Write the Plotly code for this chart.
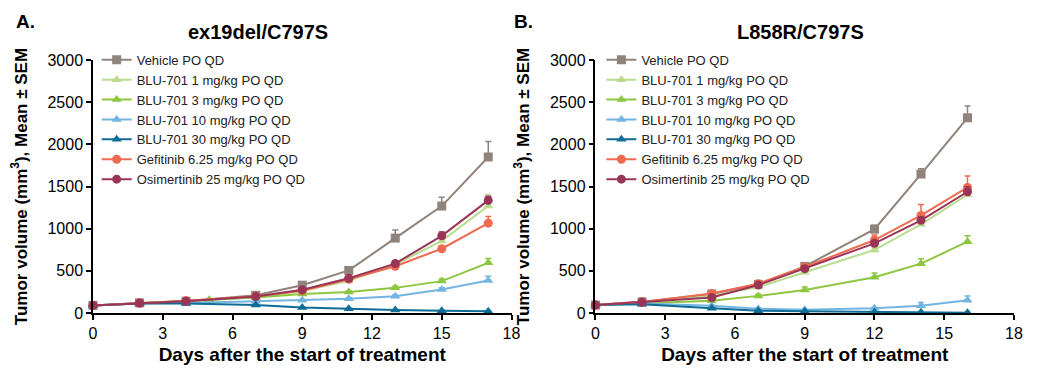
import plotly.graph_objects as go
from plotly.subplots import make_subplots

# ---------------- data ----------------
series_names = [
    "Vehicle PO QD",
    "BLU-701 1 mg/kg PO QD",
    "BLU-701 3 mg/kg PO QD",
    "BLU-701 10 mg/kg PO QD",
    "BLU-701 30 mg/kg PO QD",
    "Gefitinib 6.25 mg/kg PO QD",
    "Osimertinib 25 mg/kg PO QD",
]

# Panel A: ex19del/C797S
days_A = [0, 2, 4, 7, 9, 11, 13, 15, 17]
days_A_alt = [0, 2, 5, 7, 9, 11, 13, 15, 17]
A_vehicle = [90, 120, 140, 210, 330, 505, 888, 1268, 1850]
A_vehicle_sem = [8, 10, 10, 18, 28, 40, 95, 105, 185]
A_blu1 = [90, 115, 150, 190, 260, 383, 575, 855, 1270]
A_blu1_sem = [8, 8, 10, 12, 15, 20, 30, 40, 135]
A_blu3 = [90, 115, 156, 185, 225, 250, 298, 378, 595]
A_blu3_sem = [8, 8, 10, 10, 12, 15, 18, 25, 50]
A_blu10 = [90, 115, 120, 140, 150, 168, 200, 280, 385]
A_blu10_sem = [8, 8, 8, 10, 10, 12, 15, 20, 50]
A_blu30 = [90, 112, 112, 95, 66, 50, 35, 28, 20]
A_blu30_sem = [8, 8, 8, 8, 6, 5, 4, 4, 3]
A_gef = [90, 118, 145, 200, 265, 400, 555, 762, 1065]
A_gef_sem = [8, 8, 10, 12, 15, 20, 25, 30, 80]
A_osim = [90, 118, 140, 195, 275, 412, 586, 915, 1335]
A_osim_sem = [8, 8, 10, 12, 15, 20, 30, 45, 50]

# Panel B: L858R/C797S
days_B = [0, 2, 5, 7, 9, 12, 14, 16]
B_vehicle = [94, 132, 225, 340, 553, 994, 1648, 2315]
B_vehicle_sem = [8, 10, 15, 20, 30, 46, 63, 140]
B_blu1 = [94, 125, 203, 308, 483, 748, 1052, 1403]
B_blu1_sem = [8, 8, 12, 15, 20, 30, 40, 50]
B_blu3 = [94, 113, 144, 203, 273, 425, 585, 846]
B_blu3_sem = [8, 8, 10, 20, 35, 50, 58, 70]
B_blu10 = [94, 113, 86, 51, 39, 55, 86, 152]
B_blu10_sem = [8, 8, 8, 6, 5, 10, 39, 51]
B_blu30 = [94, 105, 55, 27, 20, 12, 8, 4]
B_blu30_sem = [8, 8, 6, 4, 3, 2, 2, 1]
B_gef = [94, 132, 230, 347, 546, 865, 1157, 1489]
B_gef_sem = [8, 10, 15, 20, 25, 59, 129, 136]
B_osim = [94, 128, 183, 331, 526, 826, 1099, 1438]
B_osim_sem = [8, 10, 12, 18, 22, 30, 40, 60]

x_ticks = [0, 3, 6, 9, 12, 15, 18]
y_ticks = [0, 500, 1000, 1500, 2000, 2500, 3000]
panel_titles = ["ex19del/C797S", "L858R/C797S"]
panel_letters = ["A.", "B."]
x_title = "Days after the start of treatment"
y_title = "Tumor volume (mm<sup>3</sup>), Mean ± SEM"

# ---------------- styles ----------------
colors = ["#8f837b", "#b9dc8e", "#8dc63f", "#72b4e2", "#0f6d95", "#ef6a50", "#9a3557"]
symbols = ["square", "triangle-up", "triangle-up", "triangle-up", "triangle-up", "circle", "circle"]
sizes = [9, 9, 9, 9, 9, 9, 9]

FONT = "Liberation Sans, Arial, sans-serif"

fig = make_subplots(rows=1, cols=2, horizontal_spacing=0.0912)

panelA = [
    (days_A, A_vehicle, A_vehicle_sem),
    (days_A_alt, A_blu1, A_blu1_sem),
    (days_A_alt, A_blu3, A_blu3_sem),
    (days_A, A_blu10, A_blu10_sem),
    (days_A, A_blu30, A_blu30_sem),
    (days_A, A_gef, A_gef_sem),
    (days_A, A_osim, A_osim_sem),
]
panelB = [
    (days_B, B_vehicle, B_vehicle_sem),
    (days_B, B_blu1, B_blu1_sem),
    (days_B, B_blu3, B_blu3_sem),
    (days_B, B_blu10, B_blu10_sem),
    (days_B, B_blu30, B_blu30_sem),
    (days_B, B_gef, B_gef_sem),
    (days_B, B_osim, B_osim_sem),
]

for col, (panel, leg) in enumerate([(panelA, "legend"), (panelB, "legend2")], start=1):
    for i, (xs, ys, sem) in enumerate(panel):
        fig.add_trace(
            go.Scatter(
                x=xs, y=ys, name=series_names[i], mode="lines+markers",
                line=dict(color=colors[i], width=2),
                marker=dict(symbol=symbols[i], size=sizes[i], color=colors[i]),
                error_y=dict(type="data", array=sem, arrayminus=[0] * len(sem),
                             symmetric=False, color=colors[i], thickness=1.5, width=3),
                legend=leg, cliponaxis=False,
            ),
            row=1, col=col,
        )

axis_common = dict(showline=True, linecolor="black", linewidth=1.5, ticks="outside",
                   ticklen=5, tickwidth=1.5, tickcolor="black", showgrid=False, zeroline=False,
                   tickfont=dict(family=FONT, size=16, color="black"))
for col in (1, 2):
    fig.update_xaxes(range=[0, 18], tickvals=x_ticks, row=1, col=col,
                     title=dict(text=f"<b>{x_title}</b>", standoff=7,
                                font=dict(family=FONT, size=19, color="black")),
                     **axis_common)
    fig.update_yaxes(range=[0, 3000], tickvals=y_ticks, row=1, col=col,
                     title=dict(text=f"<b>{y_title}</b>", standoff=16,
                                font=dict(family=FONT, size=17, color="black")),
                     **axis_common)

legend_style = dict(font=dict(family=FONT, size=13, color="#222"), bgcolor="rgba(0,0,0,0)",
                    itemwidth=30, yanchor="top", xanchor="left", tracegroupgap=0)
# page body has an 8px default margin, so the figure is sized to fit the window
fig.update_layout(
    width=1030, height=366, autosize=False,
    margin=dict(l=85, r=24, t=52, b=55),
    plot_bgcolor="white", paper_bgcolor="white",
    legend=dict(x=0.004, y=1.06, **legend_style),
    legend2=dict(x=0.552, y=1.06, **legend_style),
    showlegend=True,
)

title_x = [0.179, 0.768]
letter_x = [-0.086, 0.455]
for k in range(2):
    fig.add_annotation(text=f"<b>{panel_titles[k]}</b>", x=title_x[k], y=1.11, xref="paper", yref="paper",
                       showarrow=False, xanchor="center", yanchor="middle",
                       font=dict(family=FONT, size=20, color="black"))
    fig.add_annotation(text=f"<b>{panel_letters[k]}</b>", x=letter_x[k], y=1.153, xref="paper", yref="paper",
                       showarrow=False, xanchor="left", yanchor="middle",
                       font=dict(family=FONT, size=19, color="black"))

fig.write_html("out.html")
